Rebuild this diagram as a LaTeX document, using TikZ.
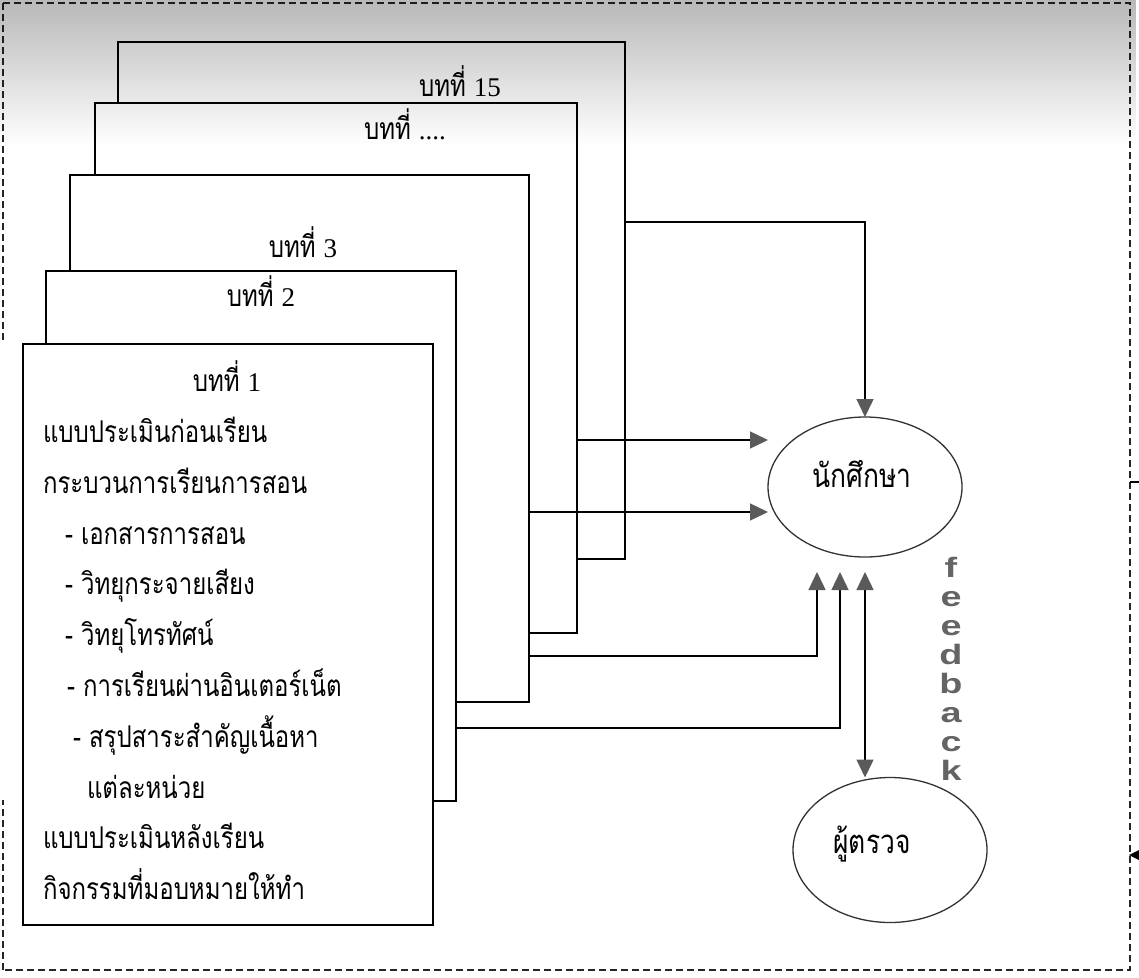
\documentclass[tikz,border=0pt]{standalone}
\usepackage{fontspec}
\setmainfont{Liberation Serif}
\newfontfamily\thai[Script=Thai,FakeStretch=0.8]{Loma}
\newfontfamily\fbfont[FakeStretch=1.35]{Liberation Sans}
\usetikzlibrary{arrows.meta,shapes.geometric,fadings}
\definecolor{arrgray}{RGB}{90,90,90}
\definecolor{fbgray}{RGB}{100,100,100}
\definecolor{ellgray}{RGB}{50,50,50}
\tikzset{
  pagebox/.style={draw=black, line width=1.5pt, fill=white, rectangle, inner sep=0pt, outer sep=0pt, anchor=north west},
  conn/.style={line width=1.4pt, black},
  arr/.style={conn, -{Triangle[length=18pt,width=17pt,color=arrgray]}},
  arrboth/.style={conn, {Triangle[length=18pt,width=17pt,color=arrgray]}-{Triangle[length=18pt,width=17pt,color=arrgray]}},
  oval/.style={ellipse, draw=ellgray, line width=1.3pt, inner sep=0pt, outer sep=0pt},
  thaitxt/.style={inner sep=0pt, outer sep=0pt, font=\thai\fontsize{30}{34}\selectfont, anchor=base west},
  headtxt/.style={inner sep=0pt, outer sep=0pt, font=\thai\fontsize{30}{34}\selectfont, anchor=base},
  ovaltxt/.style={inner sep=0pt, outer sep=0pt, font=\thai\fontsize{33}{36}\selectfont, anchor=base},
  border/.style={line width=1.2pt, dash pattern=on 7pt off 4pt, black!85},
}
\newcommand{\dig}[1]{{\rmfamily\fontsize{27}{30}\selectfont #1}}
\begin{document}
\begin{tikzpicture}[x=1pt,y=-1pt]
\useasboundingbox (0,0) rectangle (1139,977);
\fill[white] (0,0) rectangle (1139,977);

% stacked pages
\node[pagebox, minimum width=507pt, minimum height=517pt] (b15) at (118,42) {};
\node[pagebox, minimum width=482pt, minimum height=530pt] (bdots) at (95,103) {};
\node[pagebox, minimum width=459pt, minimum height=527pt] (b3) at (70,175) {};
\node[pagebox, minimum width=410pt, minimum height=530pt] (b2) at (46,271) {};
\node[pagebox, minimum width=410pt, minimum height=581pt] (b1) at (23,344) {};

% headings
\node[headtxt] (h15) at (460,96) {บทที่ \dig{15}};
\node[headtxt] (hdots) at (405,139) {บทที่ \dig{....}};
\node[headtxt] (h3) at (303,257) {บทที่ \dig{3}};
\node[headtxt] (h2) at (261,306) {บทที่ \dig{2}};
\node[headtxt] (h1) at (227,391) {บทที่ \dig{1}};

% content of chapter 1
\node[thaitxt] (l1) at (43,442) {แบบประเมินก่อนเรียน};
\node[thaitxt] (l2) at (43,493) {กระบวนการเรียนการสอน};
\node[thaitxt] (l3) at (65,544) {- เอกสารการสอน};
\node[thaitxt] (l4) at (65,594) {- วิทยุกระจายเสียง};
\node[thaitxt] (l5) at (65,645) {- วิทยุโทรทัศน์};
\node[thaitxt] (l6) at (67,696) {- การเรียนผ่านอินเตอร์เน็ต};
\node[thaitxt] (l7) at (73,747) {- สรุปสาระสำคัญเนื้อหา};
\node[thaitxt] (l8) at (87,798) {แต่ละหน่วย};
\node[thaitxt] (l9) at (43,848) {แบบประเมินหลังเรียน};
\node[thaitxt] (l10) at (43,899) {กิจกรรมที่มอบหมายให้ทำ};

% ellipses
\node[oval, minimum width=194pt, minimum height=140pt] (stu) at (865,487) {};
\node[ovaltxt] (stut) at (862,487) {นักศึกษา};
\node[oval, minimum width=194pt, minimum height=145pt] (ins) at (890,850) {};
\node[ovaltxt] (inst) at (872,853) {ผู้ตรวจ};

% feedback label
\node[inner sep=0pt, outer sep=0pt, anchor=north, align=center, text=fbgray,
      font=\fbfont\bfseries\fontsize{28}{29}\selectfont] (fb) at (951,557)
      {f\\e\\e\\d\\b\\a\\c\\k};

% helper coordinates
\coordinate (y222) at (0,222);
\coordinate (y440) at (0,440);
\coordinate (y512) at (0,512);
\coordinate (y656) at (0,656);
\coordinate (y728) at (0,728);
\coordinate (t1) at (817,572);
\coordinate (t2) at (840,572);
\coordinate (t3) at (865,572);

% connectors
\draw[arr] (b15.east |- y222) -| (stu.north);
\draw[arr] (bdots.east |- y440) -- (stu.west |- y440);
\draw[arr] (b3.east |- y512) -- (stu.west |- y512);
\draw[arr] (b3.east |- y656) -| (t1);
\draw[arr] (b2.east |- y728) -| (t2);
\draw[arrboth] (t3) -- (ins.north -| t3);

% outer dashed frame
\draw[border] (3,3) -- (1130,3) -- (1130,970) -- (3,970);
\draw[border] (3,970) -- (3,800);
\draw[border] (3,340) -- (3,3);
\draw[line width=1.2pt] (1130,482) -- (1139,482);
\fill[black] (1129,855) -- (1139,850) -- (1139,860) -- cycle;

% scanned top shading
\fill[black, fill opacity=0.28, path fading=south] (0,0) rectangle (1139,145);
\end{tikzpicture}
\end{document}
